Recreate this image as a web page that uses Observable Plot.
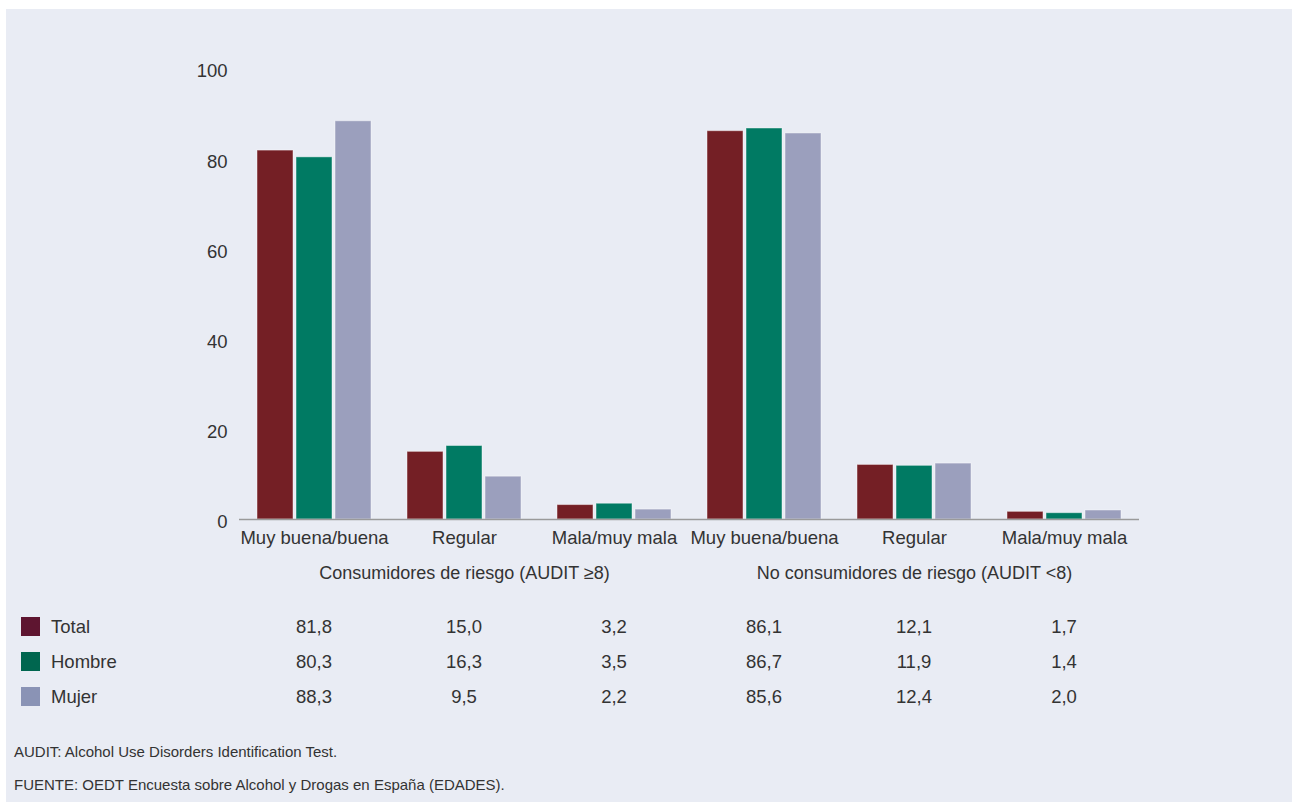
<!DOCTYPE html>
<html><head><meta charset="utf-8">
<script src="https://cdn.jsdelivr.net/npm/d3@7"></script>
<script src="https://cdn.jsdelivr.net/npm/@observablehq/plot@0.6"></script>
<style>
body{margin:0;background:#fff;font-family:"Liberation Sans",Arial,sans-serif;color:#333}
#panel{position:absolute;left:6px;top:9px;width:1286px;height:793px;background:#e9ecf4;overflow:hidden}
#chart{position:absolute;left:0;top:0}
.cell{position:absolute;font-size:18.5px;line-height:20px;white-space:nowrap;color:#333}
.sw{position:absolute;width:19px;height:19px}
.note{position:absolute;left:8px;font-size:15px;line-height:18px;color:#333;white-space:nowrap}
</style></head><body><div id="panel"><div id="chart"></div></div>
<script>
const groups = ["Consumidores de riesgo (AUDIT ≥8)", "No consumidores de riesgo (AUDIT <8)"];
const categories = ["Muy buena/buena", "Regular", "Mala/muy mala"];
const series = ["Total", "Hombre", "Mujer"];
const total  = [81.8, 15.0, 3.2, 86.1, 12.1, 1.7];
const hombre = [80.3, 16.3, 3.5, 86.7, 11.9, 1.4];
const mujer  = [88.3, 9.5, 2.2, 85.6, 12.4, 2.0];
const yTicks = [0, 20, 40, 60, 80, 100];
const barColors = ["#741f25", "#007a63", "#9b9fbd"];
const swatchColors = ["#5e1530", "#00664f", "#8a93b5"];
const footnotes = ["AUDIT: Alcohol Use Disorders Identification Test.", "FUENTE: OEDT Encuesta sobre Alcohol y Drogas en España (EDADES)."];

const keys = [];
groups.forEach(g => categories.forEach(c => keys.push(g + "|" + c)));
const valuesBySeries = [total, hombre, mujer];
const data = [];
series.forEach((s, si) => keys.forEach((k, ki) => data.push({key: k, series: s, value: valuesBySeries[si][ki]})));
const groupLabels = groups.map(g => ({key: g + "|" + categories[1], text: g}));

const W = 1286, H = 590, mL = 231, mR = 151;
const plot = Plot.plot({
  width: W, height: H,
  marginLeft: mL, marginRight: mR, marginTop: 59, marginBottom: 80,
  style: {background: "transparent", fontFamily: "Liberation Sans, Arial, sans-serif", color: "#333", fontSize: "18px"},
  fx: {domain: keys, padding: 0, axis: null},
  x: {domain: series, paddingInner: 0.075, paddingOuter: 0.419, axis: null},
  y: {domain: [0, 100], axis: null},
  color: {domain: series, range: barColors},
  marks: [
    Plot.barY(data, {fx: "key", x: "series", y: "value", fill: "series", stroke: "#ffffff", strokeOpacity: 0.45, strokeWidth: 1}),
    Plot.ruleY([0], {stroke: "#9a9a9a", strokeWidth: 1.5}),
    Plot.axisY({ticks: yTicks, tickSize: 0, tickPadding: 12, fontSize: 18.5, dy: 3, tickFormat: d => String(d), label: null}),
    Plot.axisFx({anchor: "bottom", tickSize: 0, tickPadding: 11, fontSize: 18.5, tickFormat: d => d.split("|")[1], label: null}),
    Plot.text(groupLabels, {fx: "key", text: "text", frameAnchor: "bottom", dy: 59, fontSize: 18, fill: "#333"})
  ]
});
document.getElementById("chart").appendChild(plot);

const panel = document.getElementById("panel");
let fxs = null;
try { fxs = plot.scale("fx"); } catch (e) {}
const step = (W - mL - mR) / keys.length;
const centerOf = (k, i) => {
  if (fxs && fxs.apply) { const v = fxs.apply(k); if (v != null && !isNaN(v)) return v + (fxs.bandwidth || step) / 2; }
  return mL + (i + 0.5) * step;
};
const rowY = [618, 653, 688];
const fmt = v => v.toFixed(1).replace(".", ",");
series.forEach((s, si) => {
  const sw = document.createElement("div");
  sw.className = "sw"; sw.style.left = "15px"; sw.style.top = (rowY[si] - 10) + "px"; sw.style.background = swatchColors[si];
  panel.appendChild(sw);
  const lb = document.createElement("div");
  lb.className = "cell"; lb.textContent = s; lb.style.left = "45px"; lb.style.top = (rowY[si] - 10) + "px";
  panel.appendChild(lb);
  keys.forEach((k, ki) => {
    const c = document.createElement("div");
    c.className = "cell"; c.textContent = fmt(valuesBySeries[si][ki]);
    c.style.left = centerOf(k, ki) + "px"; c.style.top = (rowY[si] - 10) + "px"; c.style.transform = "translateX(-50%)";
    panel.appendChild(c);
  });
});
const noteY = [743, 776];
footnotes.forEach((t, i) => {
  const n = document.createElement("div");
  n.className = "note"; n.textContent = t; n.style.top = (noteY[i] - 9) + "px";
  panel.appendChild(n);
});
</script></body></html>
